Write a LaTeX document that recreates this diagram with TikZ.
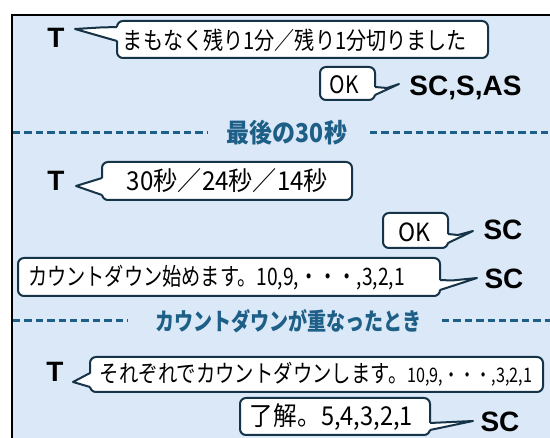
\documentclass[tikz,border=0pt]{standalone}
\usepackage{fontspec}
\usepackage{graphicx}
\setmainfont{Liberation Sans}
\newfontfamily\jp{Noto Sans CJK JP}
\definecolor{bgblue}{RGB}{219,232,247}
\definecolor{edgecol}{RGB}{22,52,72}
\definecolor{divcol}{RGB}{30,95,135}
\newcommand{\fitjp}[3]{\resizebox{#1}{\height}{\jp\fontsize{#2}{#2}\selectfont #3}}
\newcommand{\fitjpb}[3]{\resizebox{#1}{\height}{\jp\bfseries\fontsize{#2}{#2}\selectfont #3}}
\tikzset{
  bubble/.style={draw=edgecol, line width=2pt, fill=white, rounded corners=6pt, inner sep=0pt},
  say/.style={inner sep=0pt, anchor=center},
  who/.style={font=\fontsize{28}{28}\selectfont\bfseries, inner sep=0pt, text depth=0pt},
  divline/.style={draw=divcol, line width=3pt, dash pattern=on 7.4pt off 4pt},
  divtext/.style={inner sep=0pt, text=divcol},
  tailfill/.style={fill=white},
  tailline/.style={draw=edgecol, line width=2pt, line join=round},
}
\begin{document}
\begin{tikzpicture}[x=1pt,y=-1pt]
\useasboundingbox (0,0) rectangle (550,438);
\clip (0,0) rectangle (550,438);
\fill[white] (0,0) rectangle (550,438);
\draw[line width=2pt, fill=bgblue] (12,15) rectangle (562,452);

% speakers
\node[who] (t1) at (56,38) {T};
\node[who] (t2) at (56,181) {T};
\node[who] (t4) at (55,372) {T};
\node[who] (sc1) at (465.5,86) {SC,S,AS};
\node[who] (sc2) at (503,230) {SC};
\node[who] (sc3) at (504,279) {SC};
\node[who] (sc4) at (500,422) {SC};

% bubble 1
\node[bubble, minimum width=371pt, minimum height=37pt] (b1) at (302.5,39.5) {};
\fill[tailfill] (119,27) -- (100,27.5) -- (75,29) -- (119,41) -- cycle;
\draw[tailline] (117,27) -- (100,27.5) -- (75,29) -- (117,41);
\node[say] (s1) at (295,40) {\fitjp{344pt}{24pt}{まもなく残り1分／残り1分切りました}};

% OK 1
\node[bubble, minimum width=55pt, minimum height=33pt] (b2) at (347.5,83.5) {};
\fill[tailfill] (373,87) -- (387,88) -- (399,84) -- (373,95) -- cycle;
\draw[tailline] (375,87) -- (387,88) -- (399,84) -- (375,95);
\node[say] (s2) at (344,85) {\fitjp{29pt}{24pt}{OK}};

% divider 1
\node[divtext] (d1) at (287,133) {\fitjpb{120pt}{26pt}{最後の30秒}};
\draw[divline] (13,133) -- (207,133);
\draw[divline] (370,133) -- (562,133);

% bubble 3
\node[bubble, minimum width=250pt, minimum height=38pt] (b3) at (227,181) {};
\fill[tailfill] (104,178) -- (76,186) -- (104,195) -- cycle;
\draw[tailline] (102,178) -- (76,186) -- (102,195);
\node[say] (s3) at (227.5,181) {\fitjp{201pt}{26pt}{30秒／24秒／14秒}};

% OK 2
\node[bubble, minimum width=65pt, minimum height=35pt] (b4) at (415.5,230.5) {};
\fill[tailfill] (446,234) -- (458,235) -- (473,231) -- (446,243) -- cycle;
\draw[tailline] (448,234) -- (458,235) -- (473,231) -- (448,243);
\node[say] (s4) at (414,232) {\fitjp{32pt}{25pt}{OK}};

% bubble 5
\node[bubble, minimum width=422pt, minimum height=38pt] (b5) at (229,277) {};
\fill[tailfill] (438,280) -- (452,280.5) -- (477,278) -- (438,290) -- cycle;
\draw[tailline] (440,280) -- (452,280.5) -- (477,278) -- (440,290);
\node[say] (s5) at (216.5,278) {\fitjp{377pt}{24pt}{カウントダウン始めます。10,9,・・・,3,2,1}};

% divider 2
\node[divtext] (d2) at (288.5,321) {\fitjpb{267pt}{24pt}{カウントダウンが重なったとき}};
\draw[divline] (13,321) -- (128,321);
\draw[divline] (442,321) -- (562,321);

% bubble 6
\node[bubble, minimum width=453pt, minimum height=35pt] (b6) at (316.5,374.5) {};
\fill[tailfill] (92,373) -- (73,382) -- (92,387) -- cycle;
\draw[tailline] (90,373) -- (73,382) -- (90,387);
\node[say] (s6) at (316,374) {\fitjp{432pt}{24pt}{それぞれでカウントダウンします。\fontsize{20pt}{20pt}\selectfont 10,9,・・・,3,2,1}};

% bubble 7
\node[bubble, minimum width=190pt, minimum height=37pt] (b7) at (335,416.5) {};
\fill[tailfill] (428,423) -- (473,421) -- (428,430) -- cycle;
\draw[tailline] (430,423) -- (473,421) -- (430,430);
\node[say] (s7) at (331.5,417) {\fitjp{163pt}{26pt}{了解。5,4,3,2,1}};
\end{tikzpicture}
\end{document}
